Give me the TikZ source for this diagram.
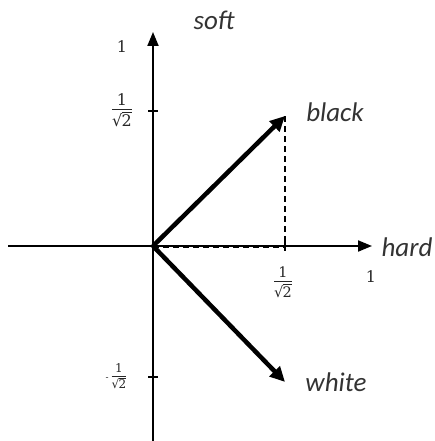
\documentclass[tikz,border=0pt]{standalone}
\usepackage{fontspec}
\setmainfont{Carlito}
\newfontfamily\numfont{DejaVu Serif}
\usetikzlibrary{arrows.meta}
\newcommand\invsqrt{\begin{tabular}{@{}c@{}}1\\[-1.5pt]\hline\rule{0pt}{1.05em}√\kern-0.6pt\vbox{\hrule height .06em\kern.1em\hbox{2}}\end{tabular}}
\begin{document}
\begin{tikzpicture}[x=1pt,y=-1pt,
  axis/.style={line width=2pt,-{Triangle[length=14pt,width=11pt]}},
  vec/.style={line width=4.5pt,-{Triangle[length=15pt,width=14pt]}},
  lab/.style={font=\fontsize{27}{30}\selectfont\itshape,text=black!80},
  num/.style={font=\fontsize{14}{16}\selectfont\numfont,text=black!85,inner sep=0pt},
  tick/.style={line width=1.5pt}]
\useasboundingbox (0,0) rectangle (435,441);
\coordinate (O) at (153,246);
\coordinate (xs) at (8,246);
\coordinate (xe) at (372,246);
\coordinate (ys) at (153,441);
\coordinate (ye) at (153,32);
\coordinate (B) at (285,116);
\coordinate (W) at (285,382);
\coordinate (Bx) at (285,246);
\draw[axis] (xs) -- (xe);
\draw[axis] (ys) -- (ye);
\draw[tick] (148,111) -- (158,111);
\draw[tick] (148,377) -- (158,377);
\draw[tick] (285,241) -- (285,251);
\draw[line width=1.4pt,dash pattern=on 6pt off 4pt] (B) -- (Bx);
\draw[line width=1.4pt,dash pattern=on 6pt off 4pt] ([yshift=-1.5pt]O) -- ([yshift=-1.5pt]Bx);
\draw[vec] (O) -- (B);
\draw[vec] (O) -- (W);
\node[lab] (soft) at (214,20) {soft};
\node[lab] (hard) at (407,247) {hard};
\node[lab] (black) at (335,112) {black};
\node[lab] (white) at (336,382) {white};
\node[num,font=\fontsize{16}{18}\selectfont\numfont] (y1) at (122,47) {1};
\node[num,font=\fontsize{16}{18}\selectfont\numfont] (x1) at (371,277) {1};
\node[num,font=\fontsize{16}{18}\selectfont\numfont] (yh) at (122,112) {\invsqrt};
\node[num,font=\fontsize{14.5}{17}\selectfont\numfont] (xh) at (283,284) {\invsqrt};
\node[num,font=\fontsize{12}{14}\selectfont\numfont] (ymh) at (116,378) {\raisebox{1pt}{\fontsize{9}{10}\selectfont-}\kern3pt\invsqrt};
\end{tikzpicture}
\end{document}
